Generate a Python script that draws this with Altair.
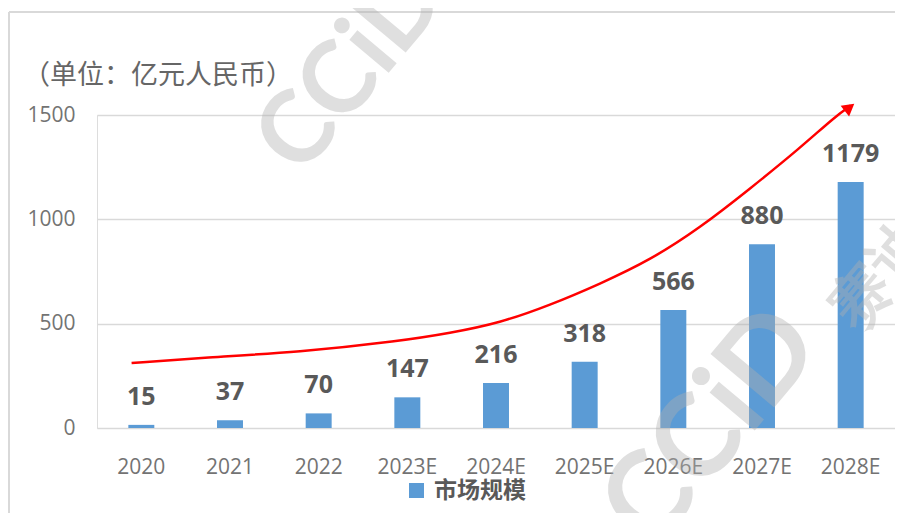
import altair as alt
import pandas as pd

# ---- data ----
years = ["2020", "2021", "2022", "2023E", "2024E", "2025E", "2026E", "2027E", "2028E"]
values = [15, 37, 70, 147, 216, 318, 566, 880, 1179]
series_name = "市场规模"
unit_text = "（单位：亿元人民币）"

# red trend arrow (x in category-index units, y in data units)
curve_x = [0.39, 1.16, 2.29, 3.42, 3.98, 4.54, 5.11, 5.67, 6.24, 6.80, 7.36, 7.93, 8.32, 8.50]
curve_y = [311, 336, 364, 417, 455, 503, 589, 690, 805, 959, 1145, 1342, 1491, 1545]
arrow_x = [8.47]
arrow_y = [1530]

# watermark
wm_text = ["CCiD", "CCiD", "赛迪"]

bars_df = pd.DataFrame({"year": years, "value": values, "series": [series_name] * len(years)})
curve_df = pd.DataFrame({"x": curve_x, "y": curve_y, "o": list(range(len(curve_x)))})
arrow_df = pd.DataFrame({"x": arrow_x, "y": arrow_y})

W, H = 798, 313
GRAY = "#595959"
BLUE = "#5B9BD5"
FONT = "Open Sans"
CJK = "Noto Sans CJK SC"

xband = alt.X("year:N", sort=years,
              scale=alt.Scale(paddingInner=0.707, paddingOuter=0.3535),
              axis=alt.Axis(title=None, labelAngle=0, labelFontSize=21, labelColor="#737373",
                            labelFont=FONT, labelPadding=28, domain=False, ticks=False))
yq = alt.Y("value:Q", scale=alt.Scale(domain=[0, 1500], nice=False),
           axis=alt.Axis(title=None, values=[0, 500, 1000, 1500], format="d", labelFontSize=21,
                         labelColor="#737373", labelFont=FONT, labelPadding=22,
                         domain=False, ticks=False, grid=True, gridColor="#D9D9D9",
                         gridWidth=1.5))

bars = alt.Chart(bars_df).mark_bar(color=BLUE).encode(
    x=xband,
    y=yq,
    color=alt.Color("series:N", scale=alt.Scale(range=[BLUE]),
                    legend=alt.Legend(title=None, orient="none", legendX=308, legendY=364,
                                      symbolType="square", symbolSize=225,
                                      symbolStrokeWidth=0, labelOffset=6,
                                      labelFont=CJK, labelFontSize=23,
                                      labelFontWeight="bold", labelColor=GRAY)),
)

labels = alt.Chart(bars_df).mark_text(
    baseline="bottom", dy=-15, fontSize=25, fontWeight="bold", color=GRAY, font=FONT
).encode(x=alt.X("year:N", sort=years), y=alt.Y("value:Q"), text=alt.Text("value:Q"))

xq = alt.X("x:Q", scale=alt.Scale(domain=[0, 9], nice=False, zero=False), axis=None)
yq2 = alt.Y("y:Q", scale=alt.Scale(domain=[0, 1500], nice=False), axis=None)

curve = alt.Chart(curve_df).mark_line(color="#FF0000", strokeWidth=2.5,
                                      interpolate="basis", clip=False).encode(
    x=xq, y=yq2, order="o:Q")
arrow = alt.Chart(arrow_df).mark_point(shape="triangle", filled=True, color="#FF0000",
                                       size=190, angle=52, opacity=1, clip=False).encode(
    x=xq, y=yq2)

# frame lines (top and left) and unit text
frame_top = alt.Chart(bars_df.head(1)).mark_rule(color="#D9D9D9", strokeWidth=2).encode(
    x=alt.value(-88), x2=alt.value(W + 30), y=alt.value(-103))
frame_left = alt.Chart(bars_df.head(1)).mark_rule(color="#D9D9D9", strokeWidth=2).encode(
    x=alt.value(-88), y=alt.value(-103), y2=alt.value(H + 100))
unit = alt.Chart(pd.DataFrame({"t": [unit_text]})).mark_text(
    align="left", baseline="middle", fontSize=27, color="#666666", font=CJK
).encode(x=alt.value(-74), y=alt.value(-39), text="t:N")

# watermarks
wm_df = pd.DataFrame({"t": wm_text, "px": [255, 615, 785], "py": [-45, 312, 160],
                      "fs": [100, 115, 60]})
wm_layers = []
for i, row in wm_df.iterrows():
    wm_layers.append(
        alt.Chart(wm_df.iloc[[i]]).mark_text(
            align="center", baseline="middle", fontSize=int(row.fs), fontWeight="bold",
            font="Lato", color="#B0B0B0", opacity=0.4, angle=310
        ).encode(x=alt.value(float(row.px)), y=alt.value(float(row.py)), text="t:N")
    )

base = alt.layer(bars, labels).resolve_scale(x="shared")
chart = alt.layer(
    frame_top, frame_left, base, curve, arrow, unit, *wm_layers
).resolve_scale(x="independent", y="independent").properties(
    width=W, height=H,
    autosize=alt.AutoSizeParams(type="none"),
    padding={"left": 89, "top": 107, "right": 0, "bottom": 85},
).configure_view(stroke=None).configure(background="white")

chart.save("out.html", embed_options={"renderer": "svg", "actions": False})
